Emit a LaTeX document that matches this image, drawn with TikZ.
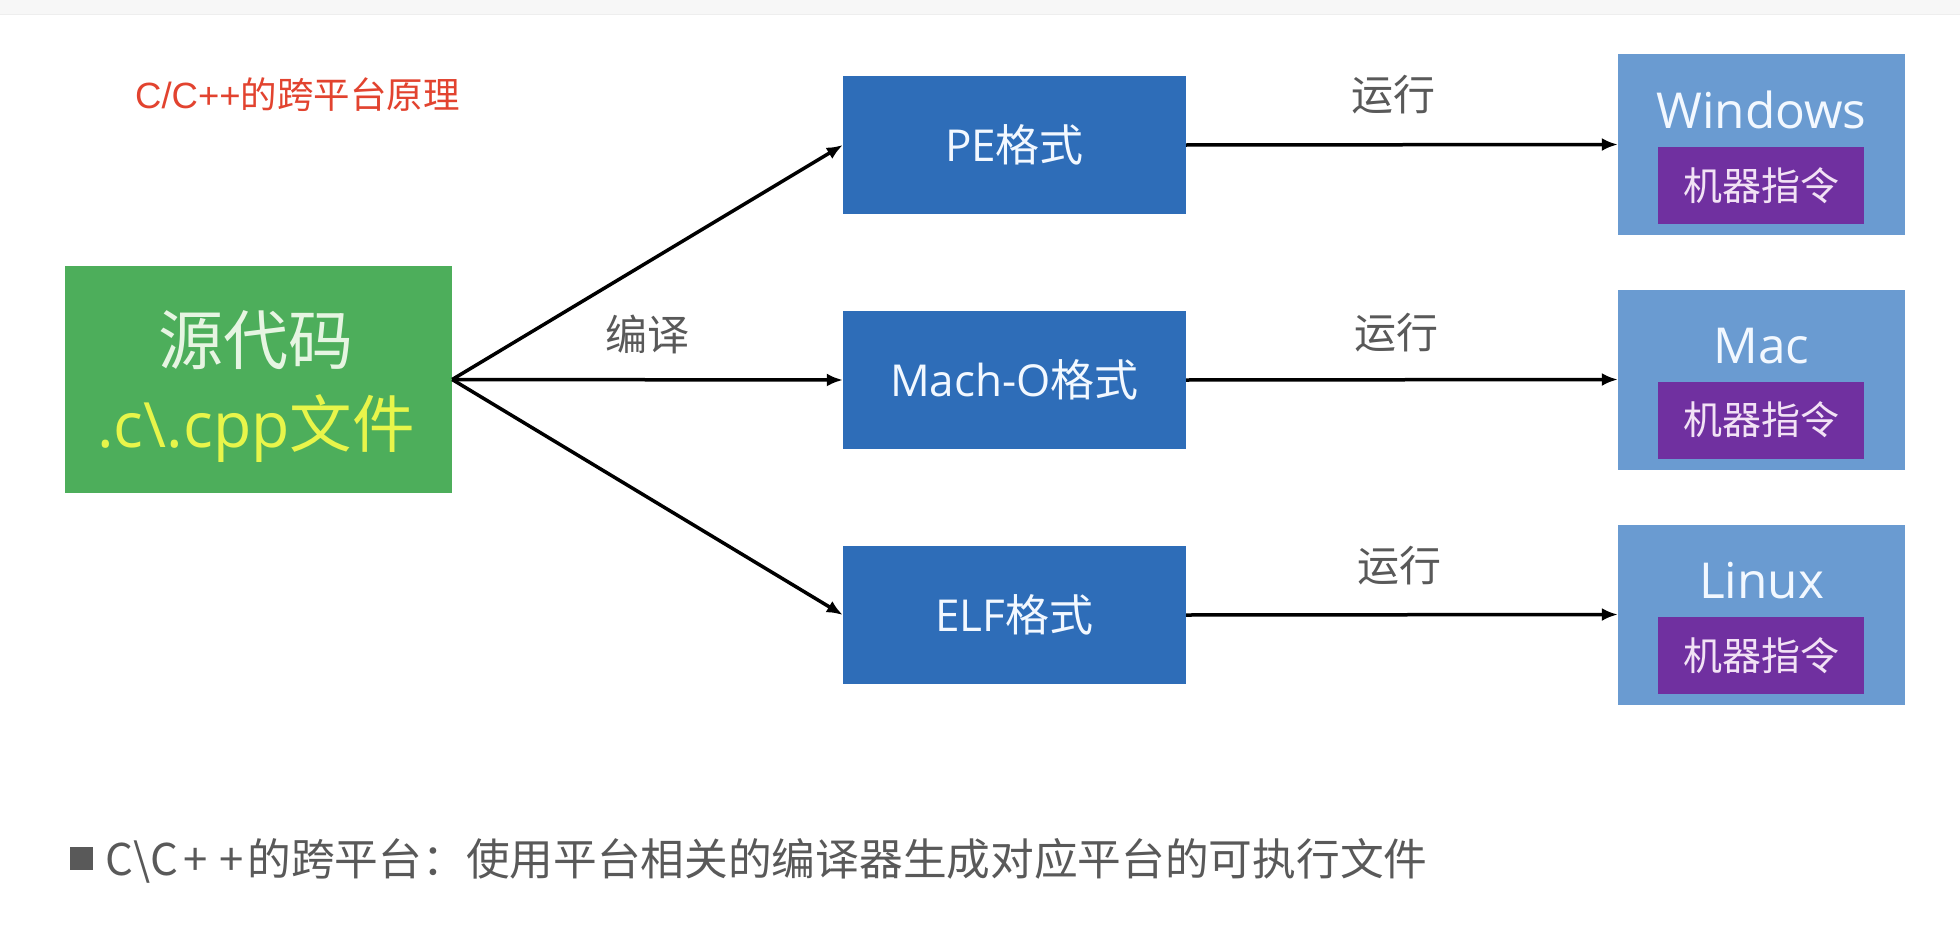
\documentclass[tikz,border=0pt]{standalone}
\usepackage{fontspec}
\setmainfont{Open Sans}
\newfontfamily\cjk{Noto Sans CJK SC}
\newfontfamily\arialf{Liberation Sans}
\usetikzlibrary{arrows.meta}
\definecolor{srcgreen}{HTML}{4DAE5B}
\definecolor{srctext}{HTML}{E6F5E2}
\definecolor{srcyellow}{HTML}{E8F54A}
\definecolor{fmtblue}{HTML}{2E6DB8}
\definecolor{platblue}{HTML}{6A9BD1}
\definecolor{inspurple}{HTML}{7030A0}
\definecolor{instext}{HTML}{F2E2F5}
\definecolor{titlered}{HTML}{E2432F}
\definecolor{labelgray}{HTML}{595959}
\definecolor{boxtext}{HTML}{F2F8FF}
\definecolor{topgray}{HTML}{F7F7F7}
\definecolor{topline}{HTML}{EEEEEE}
\begin{document}
\begin{tikzpicture}[x=1pt,y=-1pt,
  fmtbox/.style={fill=fmtblue, minimum width=343pt, minimum height=138pt, inner sep=0pt, text=boxtext, font=\fontsize{44}{50}\selectfont},
  platbox/.style={fill=platblue, minimum width=287pt, minimum height=180pt, inner sep=0pt},
  plattext/.style={anchor=base, inner sep=0pt, text=boxtext, font=\fontsize{49.5}{56}\selectfont},
  insbox/.style={fill=inspurple, minimum width=206pt, minimum height=77pt, inner sep=0pt, text=instext, font=\cjk\fontsize{39}{44}\selectfont},
  lbl/.style={inner sep=0pt, text=labelgray, font=\cjk\fontsize{42}{48}\selectfont},
  arr/.style={-{Latex[length=16pt,width=13pt]}, line width=3.5pt, black}
]
\useasboundingbox (0,0) rectangle (1960,934);
\fill[white] (0,0) rectangle (1960,934);
\fill[topgray] (0,0) rectangle (1960,15);
\draw[topline, line width=1pt] (0,15) -- (1960,15);

% title
\node[anchor=west, inner sep=0pt, text=titlered, font=\fontsize{36.5}{40}\selectfont] (title) at (135,95) {{\arialf C/C++}{\cjk 的跨平台原理}};

% source box
\node[fill=srcgreen, minimum width=387pt, minimum height=227pt, inner sep=0pt] (src) at (258.5,379.5) {};
\node[inner sep=0pt, text=srctext, font=\cjk\fontsize{65}{72}\selectfont] (srcname) at (256,340) {源代码};
\node[anchor=base, inner sep=0pt, text=srcyellow, font=\fontsize{62.5}{70}\selectfont] (srcfile) at (256,447) {.c\textbackslash.cpp{\cjk 文件}};

% format boxes
\node[fmtbox] (pe) at (1014.5,145) {PE{\cjk 格式}};
\node[fmtbox] (macho) at (1014.5,380) {Mach-O{\cjk 格式}};
\node[fmtbox] (elf) at (1014.5,615) {ELF{\cjk 格式}};

% platform boxes
\node[platbox] (win) at (1761.5,144.5) {};
\node[plattext] (winlbl) at (1761.5,128) {Windows};
\node[insbox] (winins) at (1761,185.5) {机器指令};

\node[platbox] (mac) at (1761.5,379.5) {};
\node[plattext] (maclbl) at (1761.5,363) {Mac};
\node[insbox] (macins) at (1761,420) {机器指令};

\node[platbox] (linux) at (1761.5,614.5) {};
\node[plattext] (linuxlbl) at (1761.5,598) {Linux};
\node[insbox] (linuxins) at (1761,655.5) {机器指令};

% connectors
\draw[arr] (src.east) -- (pe.west);
\draw[arr] (src.east) -- (macho.west);
\draw[arr] (src.east) -- (elf.west);
\draw[arr] (pe.east) -- (win.west);
\draw[arr] (macho.east) -- (mac.west);
\draw[arr] (elf.east) -- (linux.west);

% labels
\node[lbl] (compile) at (647,334) {编译};
\node[lbl] (run1) at (1393,95) {运行};
\node[lbl] (run2) at (1396,333) {运行};
\node[lbl] (run3) at (1399,566) {运行};

% bottom note
\node[fill=labelgray, minimum size=23pt, inner sep=0pt] (bullet) at (81.5,858.5) {};
\node[anchor=west, inner sep=0pt, text=labelgray, font=\cjk\fontsize{43.7}{50}\selectfont] (note) at (105,861) {C\textbackslash C\hspace{5pt}+\hspace{12pt}+\hspace{4pt}的跨平台：使用平台相关的编译器生成对应平台的可执行文件};
\end{tikzpicture}
\end{document}
